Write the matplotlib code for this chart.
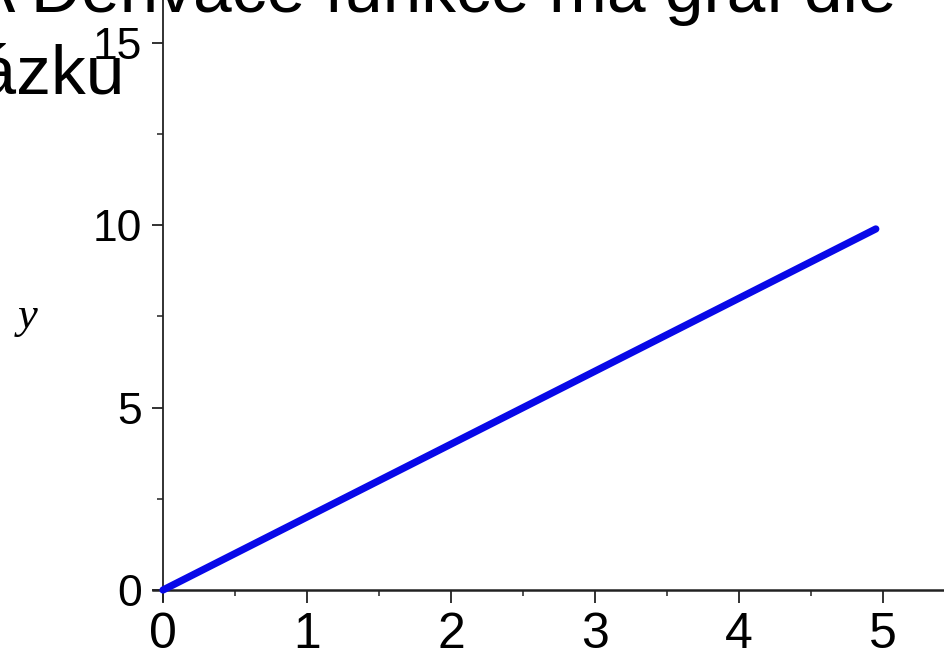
import matplotlib
matplotlib.use("Agg")
import matplotlib.pyplot as plt
from matplotlib.ticker import MultipleLocator

# derivative graph: straight line y = 2x
line_x = [0.0, 4.95]
line_y = [0.0, 9.9]

x_ticks = [0, 1, 2, 3, 4, 5]
y_ticks = [0, 5, 10, 15]

title_line1 = "A Derivace funkce má graf dle"
title_line2 = "obrázku"

W, H = 944, 649
fig = plt.figure(figsize=(W / 100, H / 100), dpi=100)
plt.rcParams['font.family'] = ['Liberation Sans', 'DejaVu Sans']

ax = fig.add_axes([153 / W, (H - 601) / H, 1 - 153 / W, 601 / H])
ax.set_xlim(-10 / 144, (W - 163) / 144)
ax.set_ylim(-11 / 36.47, 590 / 36.47)

ax.plot(line_x, line_y, color='#0808e8', lw=5.2, solid_capstyle='round', zorder=3)

for side in ['top', 'right']:
    ax.spines[side].set_visible(False)
ax.spines['bottom'].set_position(('data', 0))
ax.spines['left'].set_position(('data', 0))
ax.spines['bottom'].set_linewidth(1.8)
ax.spines['left'].set_linewidth(1.3)
ax.spines['bottom'].set_color('#222222')
ax.spines['left'].set_color('#222222')

ax.set_xticks(x_ticks)
ax.set_yticks(y_ticks)
ax.xaxis.set_minor_locator(MultipleLocator(0.5))
ax.yaxis.set_minor_locator(MultipleLocator(2.5))
ax.tick_params(axis='x', which='major', direction='out', length=9, width=1.3,
               labelsize=36, pad=7, color='#222222')
ax.tick_params(axis='y', which='major', direction='out', length=8, width=1.3,
               labelsize=32, pad=7, color='#222222')
ax.tick_params(which='minor', direction='out', length=4, width=1.1, color='#222222')

fig.text(28 / W, 1 - 328 / H, "y", family=['Liberation Serif', 'DejaVu Serif'],
         style='italic', fontsize=32, ha='center', va='baseline')

fig.text(897 / W, 1 - 12 / H, title_line1, fontsize=50, ha='right', va='baseline')
fig.text(125 / W, 1 - 93 / H, title_line2, fontsize=50, ha='right', va='baseline')

fig.savefig("out.png", dpi=100)
